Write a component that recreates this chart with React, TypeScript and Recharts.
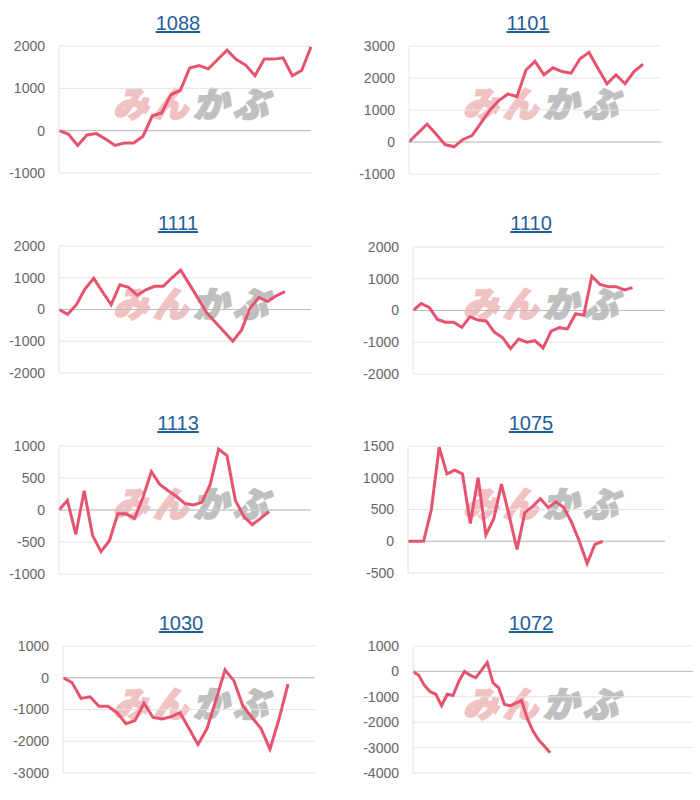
import React from 'react';
import {
  LineChart,
  Line,
  XAxis,
  YAxis,
  CartesianGrid,
  ReferenceLine,
} from 'recharts';

// machine numbers shown as chart titles
const titles = ['1088', '1101', '1111', '1110', '1113', '1075', '1030', '1072'];

// balance per game
const s1088 = [0, -80, -350, -100, -70, -200, -350, -290, -290, -130, 350, 420, 850, 950, 1480, 1540, 1460, 1680, 1900, 1680, 1550, 1300, 1690, 1690, 1720, 1300, 1420, 1980];
const s1101 = [0, 280, 560, 250, -80, -150, 80, 200, 600, 1000, 1300, 1500, 1420, 2250, 2520, 2100, 2320, 2200, 2150, 2600, 2800, 2300, 1820, 2100, 1820, 2200, 2430];
const s1111 = [0, -150, 150, 650, 980, 560, 150, 780, 700, 450, 620, 730, 730, 1000, 1240, 800, 350, -100, -400, -700, -1000, -650, 50, 380, 250, 430, 560];
const s1110 = [0, 220, 100, -280, -370, -370, -530, -200, -300, -330, -680, -850, -1200, -900, -1000, -950, -1180, -650, -540, -580, -100, -150, 1080, 820, 750, 750, 650, 720];
const s1113 = [0, 150, -380, 300, -400, -650, -480, -60, -60, -130, 200, 600, 400, 300, 210, 100, 80, 120, 400, 950, 850, 150, -100, -230, -130, -20];
const s1075 = [0, 0, 0, 500, 1480, 1060, 1120, 1060, 280, 1000, 100, 350, 900, 400, -130, 450, 550, 670, 530, 620, 530, 300, 0, -350, -50, 0];
const s1030 = [0, -150, -650, -600, -900, -900, -1100, -1450, -1350, -800, -1250, -1300, -1230, -1100, -1600, -2100, -1600, -700, 250, -100, -900, -1250, -1600, -2250, -1300, -200];
const s1072 = [0, -150, -550, -800, -900, -1350, -900, -950, -400, 0, -150, -250, 50, 350, -450, -650, -1300, -1350, -1250, -1150, -1850, -2350, -2700, -2950, -3200];

const series = [s1088, s1101, s1111, s1110, s1113, s1075, s1030, s1072];

// number of x slots on each chart's axis
const slotCounts = [27, 28, 29, 31, 30, 33, 28, 49];

// y tick labels
const ticks1088 = [-1000, 0, 1000, 2000];
const ticks1101 = [-1000, 0, 1000, 2000, 3000];
const ticks1111 = [-2000, -1000, 0, 1000, 2000];
const ticks1110 = [-2000, -1000, 0, 1000, 2000];
const ticks1113 = [-1000, -500, 0, 500, 1000];
const ticks1075 = [-500, 0, 500, 1000, 1500];
const ticks1030 = [-3000, -2000, -1000, 0, 1000];
const ticks1072 = [-4000, -3000, -2000, -1000, 0, 1000];

const tickSets = [ticks1088, ticks1101, ticks1111, ticks1110, ticks1113, ticks1075, ticks1030, ticks1072];

// plot boxes in page pixels: left, right, top, bottom
const boxes = [
  [59, 311, 46, 173],
  [409, 661, 46, 174],
  [59, 311, 246, 373],
  [413, 665, 247, 374],
  [59, 311, 446, 574],
  [408, 665, 446, 573],
  [63, 315, 646, 773],
  [413, 693, 646, 773],
];

const titleCenters = [178, 528, 178, 531, 178, 531, 181, 531];

const FONT = '"Liberation Sans", Arial, sans-serif';

const MiniChart: React.FC<{ idx: number }> = ({ idx }) => {
  const cellX = (idx % 2) * 350;
  const cellY = Math.floor(idx / 2) * 200;
  const [left, right, top, bottom] = boxes[idx];
  const ticks = tickSets[idx];
  const rows = series[idx].map((v, i) => ({ i, v }));

  return (
    <div style={{ position: 'absolute', left: cellX, top: cellY, width: 350, height: 200 }}>
      {/* watermark */}
      <div
        style={{
          position: 'absolute',
          left: 113,
          top: 83,
          fontFamily: '"Noto Sans CJK JP", sans-serif',
          fontWeight: 900,
          fontStyle: 'italic',
          fontSize: 35,
          lineHeight: '38px',
          letterSpacing: 5,
          whiteSpace: 'nowrap',
        }}
      >
        <span style={{ color: '#f1c2c4', WebkitTextStroke: '2px #f1c2c4' }}>みん</span>
        <span style={{ color: '#c0c0c0', WebkitTextStroke: '2px #c0c0c0' }}>かぶ</span>
      </div>
      <div
        style={{
          position: 'absolute',
          left: titleCenters[idx] - cellX - 40,
          width: 80,
          top: 13,
          textAlign: 'center',
          fontFamily: FONT,
          fontSize: 20,
          lineHeight: '20px',
          color: '#1f5f99',
          textDecoration: 'underline',
        }}
      >
        {titles[idx]}
      </div>
      <LineChart
        width={350}
        height={200}
        data={rows}
        margin={{ top: top - cellY, right: cellX + 350 - right, bottom: cellY + 200 - bottom, left: 0 }}
        style={{ position: 'absolute', left: 0, top: 0 }}
      >
        <CartesianGrid vertical={false} stroke="#e3e3e3" />
        <XAxis type="number" dataKey="i" domain={[0, slotCounts[idx]]} hide />
        <YAxis
          width={left - cellX}
          domain={[ticks[0], ticks[ticks.length - 1]]}
          ticks={ticks}
          interval={0}
          tickLine={false}
          tickSize={0}
          tickMargin={14}
          axisLine={{ stroke: '#e3e3e3' }}
          tick={{ fill: '#666', fontSize: 14, fontFamily: FONT }}
        />
        <ReferenceLine y={0} stroke="#bcbcbc" />
        <Line
          type="linear"
          dataKey="v"
          stroke="#e6536f"
          strokeWidth={3}
          dot={false}
          isAnimationActive={false}
        />
      </LineChart>
    </div>
  );
};

export default function App() {
  return (
    <div style={{ position: 'absolute', left: 0, top: 0, width: 700, height: 800, background: '#fff' }}>
      {titles.map((_, idx) => (
        <MiniChart key={idx} idx={idx} />
      ))}
    </div>
  );
}
